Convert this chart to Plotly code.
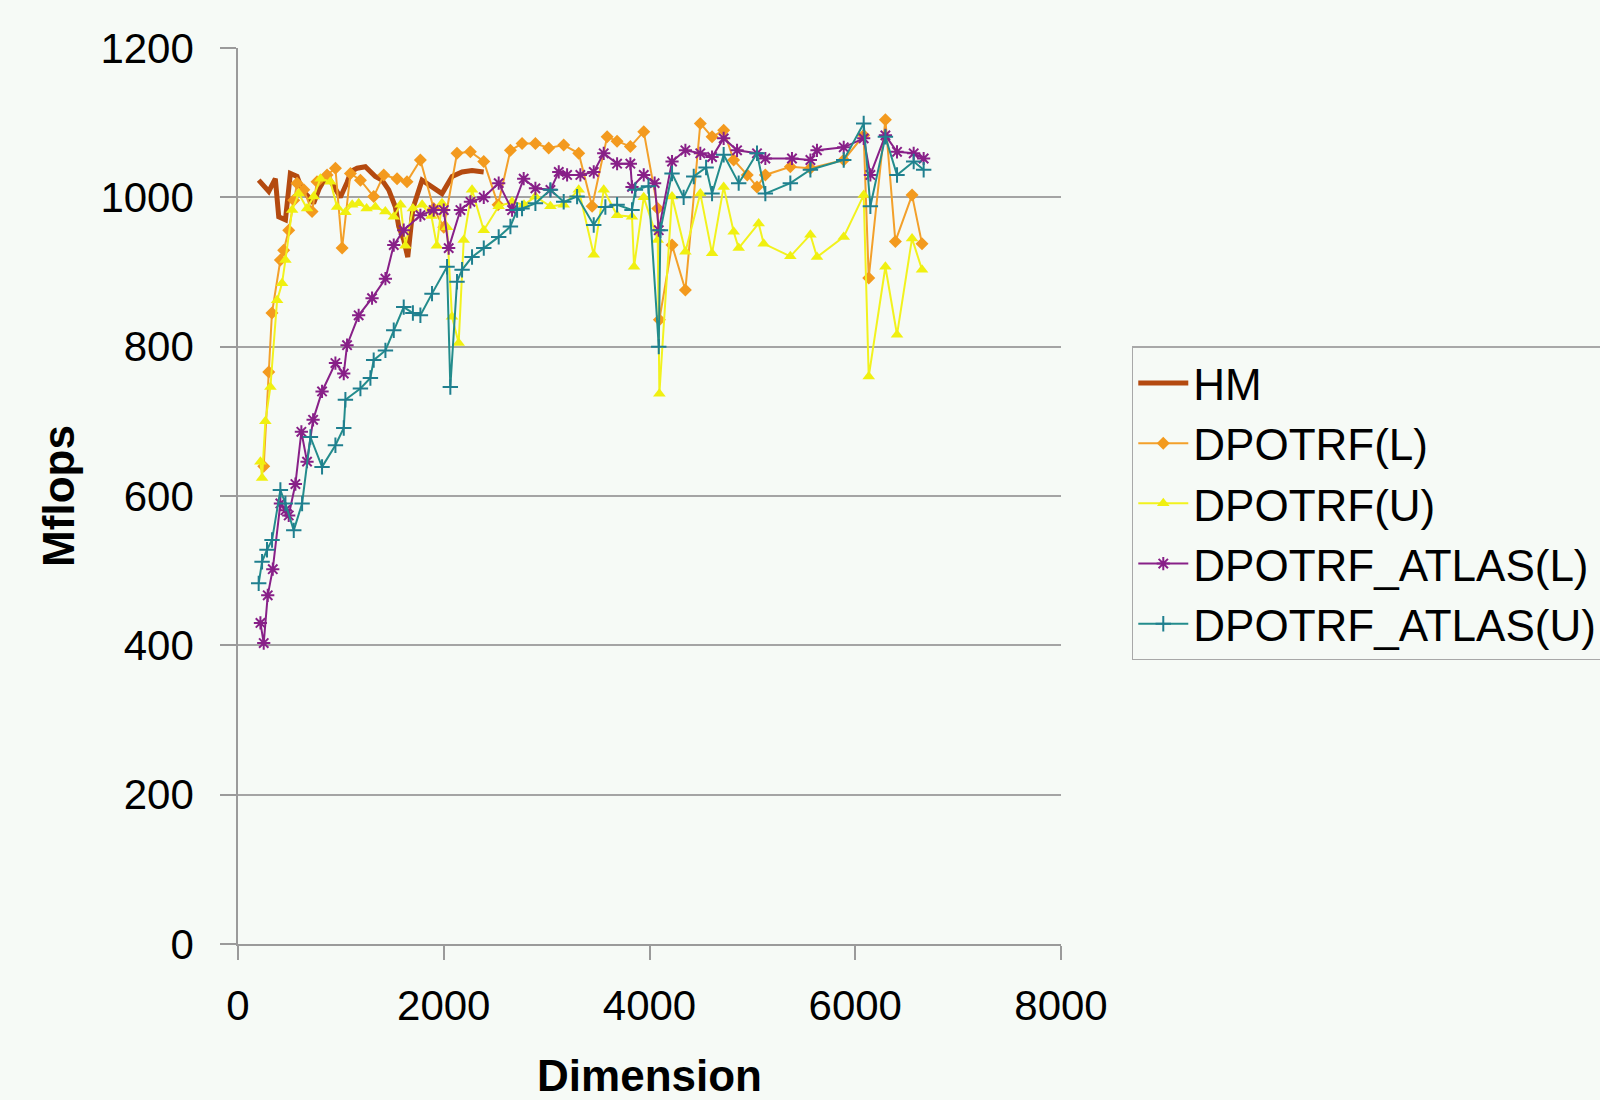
import plotly.graph_objects as go

# ---- data ----
hm_x = [201, 250, 299, 363, 396, 461, 509, 574, 623, 690, 735, 790, 866, 930, 995, 1060, 1100, 1158,
        1238, 1335, 1400, 1465, 1530, 1562, 1611, 1650, 1700, 1789, 1886, 1983, 2081, 2178, 2275, 2388]
hm_y = [1023, 1015, 1008, 1025, 974, 970, 1032, 1028, 1010, 1000, 992, 1012, 1030, 1015, 1000, 1020, 1035, 1039,
        1041, 1028, 1023, 1010, 987, 961, 943, 920, 985, 1023, 1014, 1005, 1028, 1034, 1036, 1034]

dl_x = [250, 299, 330, 412, 444, 493, 542, 574, 640, 720, 768, 866, 947, 1012, 1093, 1190, 1319, 1417,
        1546, 1643, 1773, 1902, 2000, 2129, 2259, 2389, 2528, 2648, 2761, 2891, 3020, 3166, 3312, 3442,
        3588, 3685, 3814, 3944, 4080, 4096, 4219, 4349, 4494, 4608, 4721, 4818, 4950, 5045, 5126, 5369,
        5564, 5888, 6082, 6131, 6293, 6390, 6552, 6649]
dl_y = [640, 766, 845, 916, 929, 956, 996, 1019, 1010, 981, 1021, 1030, 1039, 932, 1032, 1023, 1001, 1030,
        1025, 1021, 1050, 985, 960, 1059, 1061, 1048, 990, 1063, 1072, 1072, 1066, 1070, 1059, 988,
        1081, 1075, 1068, 1088, 985, 836, 936, 876, 1099, 1081, 1090, 1050, 1030, 1014, 1030, 1041,
        1039, 1050, 1083, 892, 1104, 941, 1003, 938]

du_x = [218, 234, 266, 315, 380, 428, 461, 526, 590, 671, 736, 801, 898, 963, 1044, 1110, 1173, 1250,
        1335, 1432, 1514, 1580, 1627, 1700, 1790, 1880, 1933, 1983, 2032, 2080, 2145, 2194, 2275, 2389,
        2534, 2664, 2780, 2891, 3037, 3166, 3312, 3458, 3555, 3685, 3830, 3850, 3944, 4080, 4096, 4219,
        4349, 4494, 4608, 4721, 4818, 4867, 5061, 5110, 5369, 5564, 5628, 5888, 6082, 6131, 6293, 6406,
        6552, 6649]
du_y = [646, 624, 700, 746, 862, 885, 916, 983, 1005, 985, 1001, 1025, 1021, 987, 980, 990, 992, 985,
        987, 981, 974, 990, 935, 985, 990, 975, 935, 992, 960, 840, 805, 943, 1010, 956,
        988, 994, 990, 1001, 988, 990, 1010, 923, 1010, 976, 974, 907, 1000, 943, 737, 1001,
        927, 1005, 925, 1014, 954, 932, 965, 938, 921, 950, 920, 947, 1003, 760, 907, 816,
        945, 903]

al_x = [218, 250, 289, 338, 412, 461, 493, 558, 616, 671, 730, 817, 947, 1028, 1060, 1173, 1303, 1433,
        1514, 1611, 1773, 1902, 2000, 2048, 2162, 2259, 2389, 2534, 2664, 2777, 2891, 3037, 3118, 3199,
        3328, 3458, 3555, 3685, 3814, 3830, 3944, 4050, 4090, 4219, 4349, 4494, 4608, 4721, 4851, 5045,
        5126, 5385, 5564, 5628, 5888, 6082, 6147, 6293, 6406, 6568, 6665]
al_y = [430, 403, 467, 502, 590, 581, 574, 616, 686, 646, 702, 740, 778, 764, 802, 842, 865, 891,
        936, 956, 976, 983, 983, 932, 983, 994, 1000, 1019, 983, 1025, 1012, 1010, 1034, 1030,
        1030, 1034, 1059, 1045, 1045, 1014, 1030, 1019, 956, 1048, 1063, 1059, 1054, 1079, 1063, 1059,
        1052, 1052, 1050, 1063, 1067, 1079, 1030, 1083, 1061, 1059, 1052]

au_x = [201, 234, 282, 331, 412, 461, 542, 623, 704, 817, 947, 1028, 1044, 1190, 1287, 1319, 1433, 1514,
        1611, 1700, 1773, 1886, 2032, 2064, 2129, 2178, 2275, 2389, 2534, 2648, 2713, 2761, 2891, 3037,
        3166, 3296, 3458, 3571, 3685, 3830, 3863, 3990, 4090, 4106, 4219, 4332, 4430, 4550, 4608, 4721,
        4867, 5045, 5126, 5369, 5564, 5888, 6082, 6147, 6293, 6406, 6568, 6665]
au_y = [483, 512, 528, 541, 608, 590, 554, 590, 679, 639, 668, 691, 729, 744, 758, 782, 795, 822,
        853, 845, 842, 871, 907, 746, 887, 903, 920, 932, 947, 961, 983, 985, 992, 1010,
        994, 1001, 963, 987, 990, 983, 1010, 1015, 800, 956, 1032, 1000, 1028, 1040, 1005, 1057,
        1019, 1059, 1005, 1019, 1037, 1050, 1099, 988, 1081, 1030, 1048, 1037]

names = ["HM", "DPOTRF(L)", "DPOTRF(U)", "DPOTRF_ATLAS(L)", "DPOTRF_ATLAS(U)"]

BG = "#F6FAF6"
FONT = "Liberation Sans, Arial, sans-serif"

fig = go.Figure()
fig.add_trace(go.Scatter(x=hm_x, y=hm_y, name=names[0], mode="lines",
                         line=dict(color="#B44A10", width=5)))
fig.add_trace(go.Scatter(x=dl_x, y=dl_y, name=names[1], mode="lines+markers",
                         line=dict(color="#F3A02A", width=2),
                         marker=dict(symbol="diamond", size=10, color="#F39A1E")))
fig.add_trace(go.Scatter(x=du_x, y=du_y, name=names[2], mode="lines+markers",
                         line=dict(color="#F2F21E", width=2),
                         marker=dict(symbol="triangle-up", size=11, color="#F0F010")))
fig.add_trace(go.Scatter(x=al_x, y=al_y, name=names[3], mode="lines+markers",
                         line=dict(color="#882088", width=2),
                         marker=dict(symbol="asterisk-open", size=11, color="#882088",
                                     line=dict(color="#882088", width=2))))
fig.add_trace(go.Scatter(x=au_x, y=au_y, name=names[4], mode="lines+markers",
                         line=dict(color="#238C8C", width=2),
                         marker=dict(symbol="cross-thin-open", size=11, color="#1F7F8F",
                                     line=dict(color="#1F7F8F", width=2))))

fig.update_layout(
    width=1600, height=1100,
    paper_bgcolor=BG, plot_bgcolor=BG,
    margin=dict(l=238, r=539, t=48, b=156, autoexpand=False),
    font=dict(family=FONT, color="#000000"),
    showlegend=True,
    legend=dict(x=1.086, y=0.667, xanchor="left", yanchor="top",
                bgcolor=BG, bordercolor="#A8A8A8", borderwidth=1.5,
                font=dict(size=44, family=FONT), itemwidth=50, tracegroupgap=0),
)
fig.update_xaxes(range=[0, 8000], tickvals=[0, 2000, 4000, 6000, 8000],
                 showgrid=False, zeroline=False,
                 showline=True, linecolor="#9A9A9A", linewidth=1.5,
                 ticks="outside", ticklen=14, tickcolor="#9A9A9A", tickwidth=1.5,
                 ticklabelstandoff=10,
                 tickfont=dict(size=42, family=FONT),
                 title=dict(text="<b>Dimension</b>", font=dict(size=44, family=FONT), standoff=34))
fig.update_yaxes(range=[0, 1200], tickvals=[0, 200, 400, 600, 800, 1000, 1200],
                 showgrid=True, gridcolor="#A4A4A4", gridwidth=1.5, zeroline=False,
                 showline=True, linecolor="#9A9A9A", linewidth=1.5,
                 ticks="outside", ticklen=16, tickcolor="#9A9A9A", tickwidth=1.5,
                 ticklabelstandoff=18,
                 tickfont=dict(size=42, family=FONT),
                 title=dict(text="<b>Mflops</b>", font=dict(size=44, family=FONT), standoff=12))

fig.write_html("out.html", config={"displayModeBar": False},
               post_script="document.body.style.margin='0';document.body.style.background='" + BG + "';")
